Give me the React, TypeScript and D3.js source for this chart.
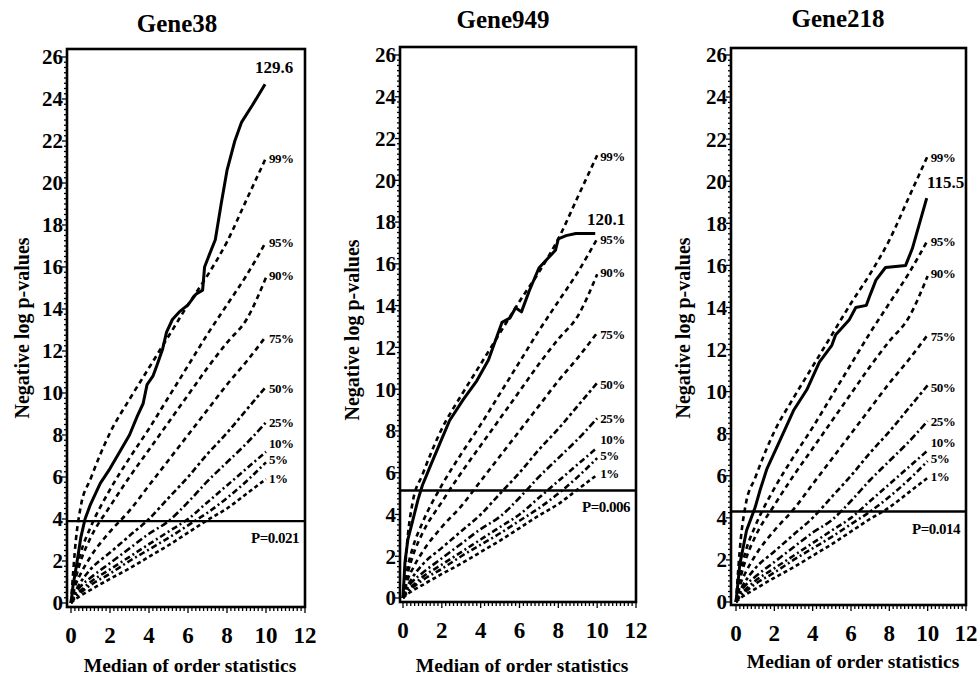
import React from "react";
import * as d3 from "d3";

// ---------- data ----------
const geneNames = ["Gene38", "Gene949", "Gene218"];
const maxStatLabels = ["129.6", "120.1", "115.5"];
const pValueLabels = ["P=0.021", "P=0.006", "P=0.014"];
const thresholdValues = [3.9, 5.15, 4.3];
const xTickValues = [0, 2, 4, 6, 8, 10, 12];
const yTickValues = [0, 2, 4, 6, 8, 10, 12, 14, 16, 18, 20, 22, 24, 26];

const percentileNames = ["99%", "95%", "90%", "75%", "50%", "25%", "10%", "5%", "1%"];
const percentileX = [0, 0.25, 0.5, 1, 2, 3, 4, 5, 6, 7, 8, 9, 10];
const p99 = [0, 3.0, 4.6, 5.9, 8.1, 9.7, 11.2, 12.7, 14.2, 15.6, 17.2, 19.2, 21.2];
const p95 = [0, 1.5, 2.4, 3.6, 5.4, 6.9, 8.3, 9.8, 11.3, 12.8, 14.2, 15.6, 17.2];
const p90 = [0, 1.2, 2.0, 3.1, 4.6, 6.0, 7.3, 8.6, 9.9, 11.2, 12.4, 13.5, 15.5];
const p75 = [0, 0.9, 1.4, 2.2, 3.4, 4.4, 5.6, 6.8, 8.0, 9.2, 10.4, 11.5, 12.7];
const p50 = [0, 0.6, 1.0, 1.6, 2.4, 3.2, 4.0, 5.0, 6.0, 7.1, 8.1, 9.2, 10.3];
const p25 = [0, 0.5, 0.8, 1.2, 1.9, 2.6, 3.3, 3.9, 4.8, 5.8, 6.7, 7.6, 8.6];
const p10 = [0, 0.4, 0.6, 1.0, 1.6, 2.2, 2.8, 3.4, 4.0, 4.8, 5.6, 6.4, 7.2];
const p05 = [0, 0.3, 0.5, 0.85, 1.4, 2.0, 2.55, 3.1, 3.7, 4.3, 5.0, 5.8, 6.7];
const p01 = [0, 0.2, 0.35, 0.62, 1.15, 1.65, 2.2, 2.75, 3.35, 3.95, 4.5, 5.2, 5.9];
const percentileValues = [p99, p95, p90, p75, p50, p25, p10, p05, p01];

const gene38X = [0, 0.1, 0.3, 0.5, 0.72, 1, 1.5, 2, 2.5, 3, 3.4, 3.7, 3.9, 4.2, 4.4, 4.7, 4.9, 5.2, 5.6, 6.0, 6.4, 6.75, 6.85, 7.1, 7.4, 7.7, 8.0, 8.4, 8.75, 9.3, 9.95];
const gene38Y = [0, 0.8, 1.9, 3.1, 4.0, 4.7, 5.7, 6.4, 7.2, 8.0, 8.9, 9.5, 10.4, 10.8, 11.3, 12.1, 12.9, 13.5, 13.9, 14.2, 14.7, 14.9, 16.0, 16.6, 17.3, 19.0, 20.6, 22.0, 22.9, 23.7, 24.7];
const gene949X = [0, 0.1, 0.25, 0.5, 0.77, 1.0, 1.4, 1.9, 2.4, 3.1, 3.8, 4.4, 5.1, 5.5, 5.8, 6.1, 6.5, 7.0, 7.5, 7.85, 8.0, 8.4, 8.9, 9.4, 9.9];
const gene949Y = [0, 1.7, 2.8, 3.7, 4.7, 5.4, 6.3, 7.4, 8.5, 9.5, 10.4, 11.4, 13.2, 13.4, 13.9, 13.7, 14.7, 15.8, 16.3, 16.65, 17.2, 17.35, 17.45, 17.45, 17.45];
const gene218X = [0, 0.2, 0.55, 1.0, 1.25, 1.6, 2.3, 3.0, 3.7, 4.35, 5.0, 5.2, 5.5, 5.9, 6.25, 6.8, 7.0, 7.3, 7.8, 8.85, 9.2, 9.95];
const gene218Y = [0, 1.8, 3.4, 4.5, 5.3, 6.3, 7.7, 9.1, 10.1, 11.4, 12.2, 12.7, 13.0, 13.4, 14.0, 14.1, 14.6, 15.3, 15.9, 16.0, 16.8, 19.2];
const geneXs = [gene38X, gene949X, gene218X];
const geneYs = [gene38Y, gene949Y, gene218Y];

// ---------- layout / style ----------
const W = 977;
const H = 681;
const panels = [
  { left: 67, right: 305, top: 49, bottom: 607, x0: 71, x12: 305, y0: 603, y26: 57, titleX: 177, titleY: 32, xlabX: 190, xlabY: 672, ylabX: 22, ylabY: 328, maxDx: 9, maxDy: -17 },
  { left: 400, right: 636, top: 47, bottom: 602, x0: 403, x12: 636, y0: 598, y26: 55, titleX: 503, titleY: 28, xlabX: 522, xlabY: 672, ylabX: 352, ylabY: 330, maxDx: 11, maxDy: -15 },
  { left: 731, right: 966, top: 48, bottom: 605, x0: 736, x12: 966, y0: 602, y26: 55, titleX: 838, titleY: 27, xlabX: 853, xlabY: 668, ylabX: 683, ylabY: 328, maxDx: 19, maxDy: -16 },
];
const labelNudge = [1, 1, -2, 2, 2, 0, -8, -3, -1];
const dashes = ["5,4", "5,4", "5,4", "5,4", "6,3,3,3", "7,3,2,3", "6,3,2,3", "6,3,2,3", "4,3"];
const txt = (size: number, extra: React.CSSProperties = {}): React.CSSProperties => ({
  fontFamily: "Liberation Serif",
  fontWeight: 700,
  fontSize: size,
  ...extra,
});

function Panel({ i }: { i: number }) {
  const p = panels[i];
  const xs = d3.scaleLinear().domain([0, 12]).range([p.x0, p.x12]);
  const ys = d3.scaleLinear().domain([0, 26]).range([p.y0, p.y26]);
  const line = d3
    .line<[number, number]>()
    .x((d) => xs(d[0]))
    .y((d) => ys(d[1]));
  const smooth = d3
    .line<[number, number]>()
    .x((d) => xs(d[0]))
    .y((d) => ys(d[1]))
    .curve(d3.curveMonotoneX);

  const yMinor = d3.range(0, 26.01, 0.25);
  const xMinor = d3.range(0, 12.01, 0.2);

  const gx = geneXs[i];
  const gy = geneYs[i];
  const solidPts = gx.map((x, k) => [x, gy[k]] as [number, number]);
  const endX = xs(gx[gx.length - 1]);
  const endY = ys(gy[gy.length - 1]);

  return (
    <g>
      <text x={p.titleX} y={p.titleY} textAnchor="middle" style={txt(25)}>
        {geneNames[i]}
      </text>
      <rect x={p.left} y={p.top} width={p.right - p.left} height={p.bottom - p.top} fill="none" stroke="#000" strokeWidth={2.6} />
      {yMinor.map((v, k) => (
        <line key={"ym" + k} x1={p.left} x2={p.left - (Math.abs(v % 2) < 0.01 ? 5 : 3)} y1={ys(v)} y2={ys(v)} stroke="#000" strokeWidth={1.3} />
      ))}
      {yTickValues.map((v) => (
        <text key={"yt" + v} x={p.left - 4} y={ys(v)} dy="0.35em" textAnchor="end" style={txt(21)}>
          {v}
        </text>
      ))}
      {xMinor.map((v, k) => (
        <line key={"xm" + k} x1={xs(v)} x2={xs(v)} y1={p.bottom} y2={p.bottom + (Math.abs(v - Math.round(v / 2) * 2) < 0.01 ? 6 : 4)} stroke="#000" strokeWidth={1.3} />
      ))}
      {xTickValues.map((v) => (
        <text key={"xt" + v} x={xs(v)} y={p.bottom + 36} textAnchor="middle" style={txt(23)}>
          {v}
        </text>
      ))}
      <text x={p.xlabX} y={p.xlabY} textAnchor="middle" style={txt(19.5)}>
        Median of order statistics
      </text>
      <text transform={`translate(${p.ylabX},${p.ylabY}) rotate(-90)`} textAnchor="middle" dy="0.35em" style={txt(20)}>
        Negative log p-values
      </text>
      {percentileValues.map((vals, k) => (
        <path
          key={"pc" + k}
          d={smooth(percentileX.map((x, j) => [x, vals[j]] as [number, number])) || ""}
          fill="none"
          stroke="#000"
          strokeWidth={2.6}
          strokeDasharray={dashes[k]}
        />
      ))}
      {percentileValues.map((vals, k) => (
        <text key={"pl" + k} x={xs(10) + 3} y={ys(vals[vals.length - 1]) + labelNudge[k]} dy="0.35em" style={txt(13, { letterSpacing: -0.5 })}>
          {percentileNames[k]}
        </text>
      ))}
      <line x1={p.left} x2={p.right} y1={ys(thresholdValues[i])} y2={ys(thresholdValues[i])} stroke="#000" strokeWidth={2.4} />
      <text x={p.right - 6} y={ys(thresholdValues[i]) + 22} textAnchor="end" style={txt(15, { letterSpacing: -0.5 })}>
        {pValueLabels[i]}
      </text>
      <path d={line(solidPts) || ""} fill="none" stroke="#000" strokeWidth={3} strokeLinejoin="round" />
      <text x={endX + p.maxDx} y={endY + p.maxDy} textAnchor="middle" dy="0.35em" style={txt(17)}>
        {maxStatLabels[i]}
      </text>
    </g>
  );
}

export default function App() {
  return (
    <svg width={W} height={H} style={{ display: "block", position: "absolute", left: 0, top: 0, background: "#fff" }}>
      <rect x={0} y={0} width={W} height={H} fill="#fff" />
      {panels.map((_, i) => (
        <Panel key={i} i={i} />
      ))}
    </svg>
  );
}
